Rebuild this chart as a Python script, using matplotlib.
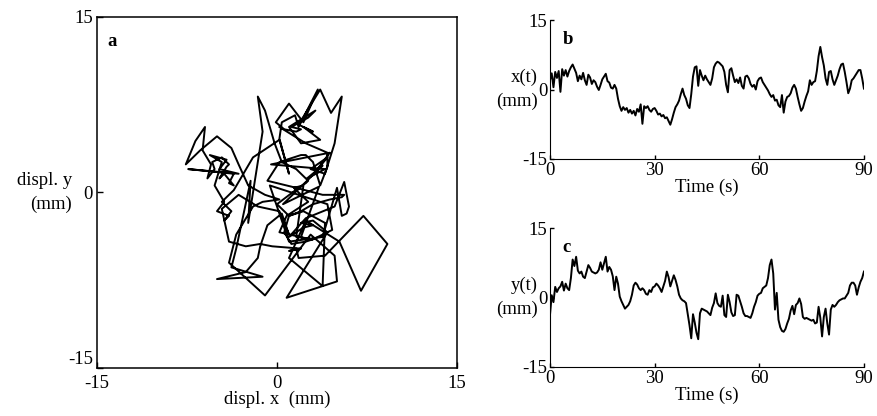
from matplotlib import pyplot as plt
import numpy as np

# postural sway, sampled every half second over 90 s
time = np.arange(0, 90.5, 0.5)

# x displacement (mm)
x_disp = [2.0, 3.5, 0.5, 3.8, 2.5, 4.0, -0.5, 4.4, 3.0, 4.2,
          2.8, 4.0, 4.8, 5.4, 4.5, 3.6, 1.8, 3.0, 2.2, 3.6,
          2.0, 1.0, 3.2, 2.6, 1.2, 2.0, 1.6, 0.6, -0.1, 1.0,
          2.2, 2.8, 3.4, 1.8, 1.5, 0.4, 0.2, 1.0, 0.2, -2.0,
          -3.6, -4.6, -3.8, -4.4, -4.0, -5.0, -4.4, -5.2, -4.6, -5.6,
          -4.2, -4.8, -3.2, -7.4, -3.6, -4.0, -3.6, -4.4, -4.8, -4.2,
          -4.0, -4.6, -5.4, -5.2, -5.8, -5.5, -6.2, -6.0, -6.8, -7.6,
          -6.4, -5.0, -3.8, -3.2, -2.4, -1.0, 0.2, -1.2, -2.0, -3.4,
          -4.0, -1.0, 2.8, 4.8, 5.0, 0.8, 4.2, 3.0, 2.0, 3.0,
          2.2, 1.6, 1.0, 2.4, 4.8, 5.6, 6.0, 5.8, 5.4, 5.0,
          3.8, 1.0, -0.6, 4.2, 4.6, 3.0, 1.6, 2.2, 1.4, 2.6,
          0.8, 0.2, 2.8, 3.0, 2.4, 1.2, 0.6, 1.0, 0.0, 1.8,
          2.4, 2.6, 1.6, 1.0, 0.4, -0.2, -1.0, -1.6, -1.2, -2.4,
          -2.2, -3.4, -3.8, -1.2, -5.0, -2.6, -1.6, -1.4, -0.8, 0.4,
          1.0, 0.2, -1.6, -3.2, -4.6, -4.0, -2.6, -1.4, -0.4, 2.0,
          1.0, 1.6, 1.8, 4.0, 7.2, 9.2, 7.0, 5.2, 2.4, 1.0,
          3.8, 4.0, 2.2, 1.0, 2.0, 3.0, 4.4, 5.4, 5.6, 3.8,
          1.6, -0.8, 0.2, 2.0, 2.4, 3.0, 3.6, 4.2, 4.2, 2.4,
          0.2]

# y displacement (mm)
y_disp = [-3.8, 0.5, -1.0, 2.3, 1.2, 2.0, 2.4, 3.4, 1.5, 3.0,
          2.0, 1.6, 4.2, 8.2, 6.8, 8.8, 5.8, 5.2, 5.6, 4.5,
          4.2, 5.6, 7.0, 6.4, 5.6, 5.4, 5.2, 5.4, 6.0, 7.6,
          6.0, 7.4, 8.8, 5.6, 6.6, 6.0, 4.6, 1.6, 4.5, 3.0,
          0.2, -0.8, -1.6, -2.4, -2.0, -1.6, -0.8, 0.6, 2.6, 3.2,
          2.8, 2.0, 1.6, 2.0, 1.6, 0.8, 0.6, 1.6, 1.2, 2.2,
          2.4, 3.0, 2.6, 2.0, 1.2, 2.4, 3.6, 5.6, 4.4, 2.4,
          3.6, 4.8, 3.8, 2.4, 0.6, -0.2, -0.6, -0.8, -1.2, -3.6,
          -6.0, -8.8, -3.6, -5.4, -7.6, -9.0, -3.4, -2.4, -2.6, -2.8,
          -3.0, -3.4, -3.8, -2.2, -1.2, 0.9, -1.2, -1.8, -2.0, 0.4,
          -3.8, -4.2, 0.6, -1.0, -3.2, -4.0, -3.8, 0.6, 0.4, -0.8,
          -2.0, -3.4, -4.0, -4.0, -4.2, -4.4, -3.4, -2.0, -1.0, 0.4,
          0.8, 1.0, 2.0, 2.3, 2.6, 4.2, 7.0, 8.2, 5.2, -2.6,
          1.0, -4.8, -6.4, -7.2, -7.4, -6.8, -5.6, -4.6, -2.8, -1.8,
          -3.6, -1.6, -1.2, -0.2, -1.4, -4.2, -4.6, -4.4, -4.6, -4.8,
          -5.0, -4.8, -5.6, -5.4, -2.0, -4.4, -8.4, -4.2, -2.4, -5.6,
          -8.0, -2.6, -1.6, -2.0, -1.6, -1.0, -0.6, -0.4, -0.2, -0.2,
          0.4, 1.0, 2.6, 3.2, 3.2, 2.6, 0.6, 2.2, 3.4, 4.2,
          5.6]

plt.rcParams['font.family'] = ['Liberation Serif', 'DejaVu Serif']
plt.rcParams['font.size'] = 13.5
plt.rcParams['axes.unicode_minus'] = False

fig = plt.figure(figsize=(8.77, 4.16), dpi=100)

# a: trajectory in the horizontal plane
ax1 = fig.add_axes([0.1106, 0.1154, 0.4105, 0.8438])
ax1.plot(x_disp, y_disp, color='black', lw=1.4)
ax1.set_xlim(-15, 15)
ax1.set_ylim(-15, 15)
ax1.set_xticks([-15, 0, 15])
ax1.set_yticks([-15, 0, 15])
ax1.tick_params(direction='in', length=4, width=1, pad=3)
ax1.tick_params(axis='x', pad=5)
# lift the bottom y label so it clears the x "-15"
ax1.get_yticklabels()[0].set_va('bottom')
for s in ax1.spines.values():
    s.set_linewidth(1.1)
ax1.set_xlabel("displ. x  (mm)", labelpad=-1)
ax1.text(-0.07, 0.5, "displ. y\n(mm)", transform=ax1.transAxes,
         ha='right', va='center', linespacing=1.5)
ax1.text(0.03, 0.955, "a", transform=ax1.transAxes, fontweight='bold',
         ha='left', va='top')

# b and c: each coordinate against time
boxes = [[0.6271, 0.6178, 0.358, 0.334], [0.6271, 0.1178, 0.358, 0.334]]
series = [x_disp, y_disp]
names = ["x(t)", "y(t)"]
letters = ["b", "c"]
for box, vals, name, let in zip(boxes, series, names, letters):
    ax = fig.add_axes(box)
    ax.plot(time, vals, color='black', lw=1.4)
    ax.set_xlim(0, 90)
    ax.set_ylim(-15, 15)
    ax.set_xticks([0, 30, 60, 90])
    ax.set_yticks([-15, 0, 15])
    ax.spines['top'].set_visible(False)
    ax.spines['right'].set_visible(False)
    ax.tick_params(direction='in', length=3, width=1, pad=2)
    ax.set_xlabel("Time (s)", labelpad=0)
    ax.text(-0.04, 0.5, name + "\n(mm)", transform=ax.transAxes,
            ha='right', va='center', linespacing=1.5)
    ax.text(0.04, 0.92, let, transform=ax.transAxes, fontweight='bold',
            ha='left', va='top')

plt.savefig("out.png", dpi=100)
